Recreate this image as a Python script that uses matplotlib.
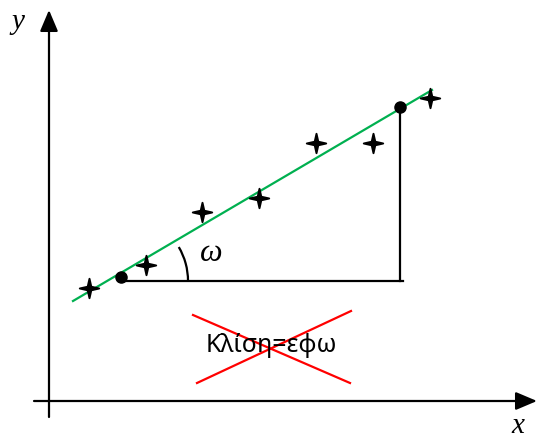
import numpy as np
import matplotlib
matplotlib.use("Agg")
import matplotlib.pyplot as plt
from matplotlib.patches import Arc
from matplotlib.path import Path

# measured points (x, y) in drawing units, y grows downward
pts_x = [89, 146, 202, 259, 316, 373, 430]
pts_y = [288, 265, 212, 198, 143, 143, 98]

# fitted line end points
fit_x = [73, 432]
fit_y = [301, 90]

# two points on the line used for the slope triangle
tri_x = [121, 400]
tri_y = [281, 107]

# four-pointed star marker
t = np.linspace(0, 2 * np.pi, 9)[:-1]
r = np.where(np.arange(8) % 2 == 0, 1.0, 0.26)
star_v = np.column_stack([r * np.sin(t), r * np.cos(t)])
star = Path(np.vstack([star_v, star_v[:1]]), closed=True)

fig = plt.figure(figsize=(5.39, 4.44), dpi=100)
ax = fig.add_axes([0, 0, 1, 1])
ax.set_xlim(0, 539)
ax.set_ylim(444, 0)
ax.axis("off")

# axes with arrows
arr = dict(arrowstyle="-|>,head_length=1.3,head_width=0.55", lw=1.6, color="black",
           shrinkA=0, shrinkB=0)
ax.annotate("", xy=(49, 10), xytext=(49, 417), arrowprops=arr)
ax.annotate("", xy=(537, 401), xytext=(34, 401), arrowprops=arr)

serif = dict(family="Liberation Serif", style="italic", fontsize=21)
ax.text(18, 22, "y", ha="center", va="center", **serif)
ax.text(518, 426, "x", ha="center", va="center", **serif)

# best fit line
ax.plot(fit_x, fit_y, color="#00b050", lw=1.6, zorder=2)

# slope triangle
ax.plot([tri_x[0], tri_x[1] + 3], [tri_y[0], tri_y[0]], color="black", lw=1.6, zorder=2)
ax.plot([tri_x[1], tri_x[1]], [tri_y[1], tri_y[0]], color="black", lw=1.6, zorder=2)
ax.plot(tri_x, [tri_y[0] - 4, tri_y[1]], "o", color="black", ms=8, zorder=4)

# angle arc
ang = np.degrees(np.arctan2(fit_y[1] - fit_y[0], fit_x[1] - fit_x[0]))
ax.add_patch(Arc((tri_x[0], tri_y[0]), 134, 134, theta1=ang, theta2=0,
                 color="black", lw=1.6))
ax.text(211, 253, "ω", ha="center", va="center",
        family="Liberation Serif", style="italic", fontsize=23)

# measurements
ax.plot(pts_x, pts_y, linestyle="none", marker=star, ms=14,
        color="black", mec="black", mew=1.4, zorder=3)

# crossed-out label
ax.text(271, 345, "Κλίση=εφω", ha="center", va="center",
        family="Noto Sans", fontsize=18)
ax.plot([193, 350], [315, 383], color="red", lw=1.6)
ax.plot([197, 351], [383, 311], color="red", lw=1.6)

fig.savefig("out.png", dpi=100)
